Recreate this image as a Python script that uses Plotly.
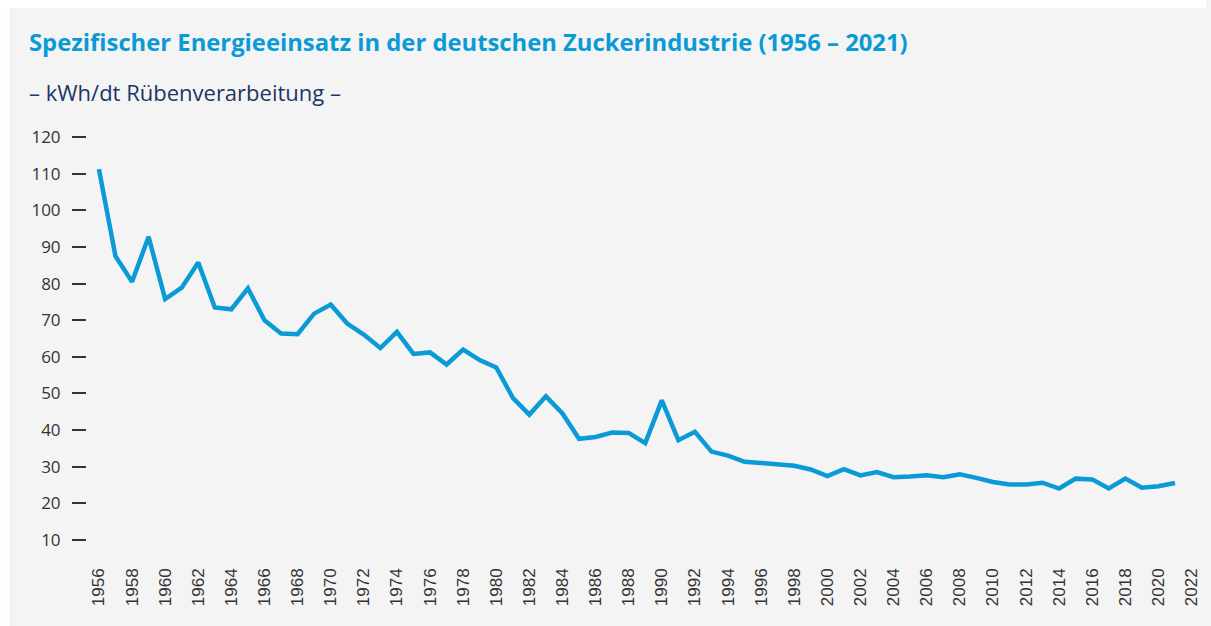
import plotly.graph_objects as go

# Spezifischer Energieeinsatz, kWh/dt Rübenverarbeitung
years = list(range(1956, 2022))
energy = [
    111.3, 87.5, 80.5, 92.8, 75.8, 78.9, 85.8, 73.5, 73.0, 78.7,
    70.0, 66.4, 66.2, 71.8, 74.3, 69.1, 66.1, 62.4, 66.8, 60.8,
    61.2, 57.9, 62.0, 59.1, 57.1, 48.8, 44.2, 49.2, 44.5, 37.6,
    38.1, 39.3, 39.2, 36.4, 48.1, 37.2, 39.5, 34.1, 33.0, 31.3,
    31.0, 30.7, 30.2, 29.2, 27.4, 29.3, 27.6, 28.5, 27.1, 27.3,
    27.6, 27.1, 27.9, 26.9, 25.8, 25.1, 25.1, 25.6, 24.0, 26.7,
    26.5, 24.0, 26.7, 24.2, 24.6, 25.5,
]
x_ticks = list(range(1956, 2023, 2))
y_ticks = [10, 20, 30, 40, 50, 60, 70, 80, 90, 100, 110, 120]

title = "Spezifischer Energieeinsatz in der deutschen Zuckerindustrie (1956 – 2021)"
subtitle = "– kWh/dt Rübenverarbeitung –"

BLUE = "#0a9ad6"
BG = "#f4f4f4"

W, H = 1211, 626
L, R, T, B = 87, 10, 130, 68.4
pw = W - L - R
ph = H - T - B

fig = go.Figure()
fig.add_trace(go.Scatter(
    x=years, y=energy,
    mode="lines",
    line=dict(color=BLUE, width=4.5),
    name="kWh/dt",
    hoverinfo="skip",
))

# thin white frame on the left and top edge, like the original panel
fig.add_shape(type="rect", xref="paper", yref="paper", layer="above",
              x0=-L / pw, x1=(9 - L) / pw, y0=-B / ph, y1=1 + T / ph,
              fillcolor="white", line_width=0)
fig.add_shape(type="rect", xref="paper", yref="paper", layer="above",
              x0=-L / pw, x1=1 + R / pw, y0=1 + (T - 8) / ph, y1=1 + T / ph,
              fillcolor="white", line_width=0)

fig.update_layout(
    width=W, height=H,
    margin=dict(l=L, r=R, t=T, b=B),
    paper_bgcolor=BG,
    plot_bgcolor=BG,
    showlegend=False,
    hovermode=False,
    font=dict(family="Open Sans", color="#333333"),
    xaxis=dict(
        range=[1955.28, 1955.28 + pw / 16.63],
        tickvals=x_ticks,
        ticktext=[str(v) for v in x_ticks],
        tickangle=-90,
        tickfont=dict(family="Liberation Sans", size=17, color="#333333"),
        showgrid=False, zeroline=False, showline=False,
        ticks="", ticklabelstandoff=6,
    ),
    yaxis=dict(
        range=[122 - ph / 3.655, 122],
        tickvals=y_ticks,
        tickfont=dict(family="Open Sans", size=17, color="#333333"),
        showgrid=False, zeroline=False, showline=False,
        ticks="outside", ticklen=14, tickwidth=2, tickcolor="#333333",
        ticklabelstandoff=8,
    ),
    annotations=[
        dict(text="<b>" + title + "</b>", xref="paper", yref="paper",
             x=(27 - L) / pw, y=1 + (T - 42) / ph, xanchor="left", yanchor="middle",
             showarrow=False, font=dict(family="Open Sans", size=23.8, color=BLUE)),
        dict(text=subtitle, xref="paper", yref="paper",
             x=(27 - L) / pw, y=1 + (T - 92) / ph, xanchor="left", yanchor="middle",
             showarrow=False, font=dict(family="Open Sans", size=22, color="#1d3567")),
    ],
)

fig.write_html(
    "out.html",
    config={"displayModeBar": False},
    post_script="document.body.style.margin='0';"
                "document.documentElement.style.background='%s';"
                "document.body.style.overflow='hidden';" % BG,
)
